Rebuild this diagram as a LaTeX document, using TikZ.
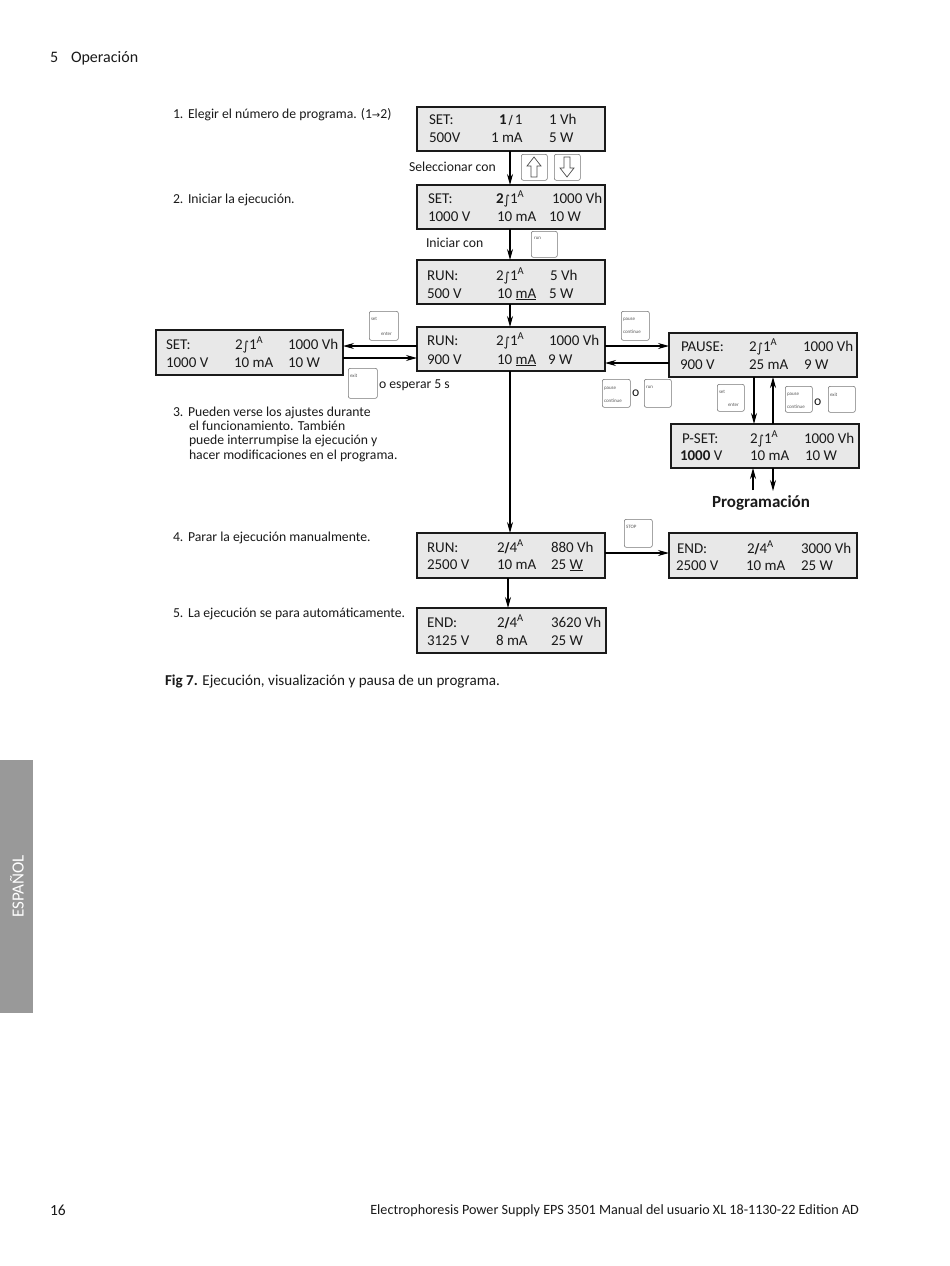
\documentclass[tikz,border=0pt]{standalone}
\usepackage{fontspec}
\setmainfont{Carlito}
\newfontfamily\symf{DejaVu Sans}
\usetikzlibrary{arrows.meta}
\definecolor{lcd}{HTML}{E8E8E8}
\definecolor{keyc}{HTML}{777777}
\definecolor{ink}{HTML}{1A1A1A}
\newcounter{tn}
\tikzset{
 panel/.style={draw=ink,line width=1.1pt,fill=lcd},
 keybox/.style={draw=keyc,line width=.6pt,rounded corners=2pt,fill=white},
 txt/.style={anchor=base west,inner sep=0pt,outer sep=0pt,text=ink,font=\fontsize{15}{16}\selectfont},
 item/.style={txt,font=\fontsize{13.7}{16}\selectfont},
 tiny/.style={anchor=base west,inner sep=0pt,outer sep=0pt,text=black!65,font=\fontsize{5}{6}\selectfont},
 conn/.style={draw=black,line width=1.1pt,-{Stealth[length=11pt,width=6pt]}},
}
\newcommand{\T}[3]{\stepcounter{tn}\node[txt] (t\arabic{tn}) at (#1,#2) {#3};}
\newcommand{\LL}[3]{\stepcounter{tn}\node[item] (t\arabic{tn}) at (#1,#2) {#3};}
\newcommand{\K}[3]{\stepcounter{tn}\node[tiny] (t\arabic{tn}) at (#1,#2) {#3};}
\newcommand{\PN}[5]{\node[panel,minimum width=#4pt-#2pt,minimum height=#5pt-#3pt,inner sep=0pt,outer sep=0pt,anchor=north west] (#1) at (#2,#3) {};}
\newcommand{\KB}[5]{\node[keybox,minimum width=#4pt-#2pt,minimum height=#5pt-#3pt,inner sep=0pt,anchor=north west] (#1) at (#2,#3) {};}
\newcommand{\Int}{{\symf\fontsize{12.5}{12}\selectfont\raisebox{-1pt}{∫}}}
\newcommand{\Ga}{2\Int 1\textsuperscript{A}}
\newcommand{\Gb}{2{\symf\fontsize{13.5}{12}\bfseries\selectfont /}4\textsuperscript{A}}
\begin{document}
\begin{tikzpicture}[x=1pt,y=-1pt]
\useasboundingbox (0,0) rectangle (950,1266);
\fill[white] (0,0) rectangle (950,1266);
% header, footer, sidebar
\stepcounter{tn}\node[txt,font=\fontsize{16}{18}\selectfont] (t\arabic{tn}) at (50,62) {5};
\stepcounter{tn}\node[txt,font=\fontsize{16}{18}\selectfont] (t\arabic{tn}) at (71,62) {Operación};
\stepcounter{tn}\node[txt,font=\fontsize{15.5}{18}\selectfont] (t\arabic{tn}) at (50,1215) {16};
\stepcounter{tn}\node[txt,anchor=base east,font=\fontsize{14.15}{16}\selectfont] (t\arabic{tn}) at (859,1214) {Electrophoresis Power Supply EPS 3501 Manual del usuario XL 18-1130-22 Edition AD};
\node[fill=black!40,minimum width=33pt,minimum height=253pt,inner sep=0pt,anchor=north west] (side) at (0,760) {};
\node[rotate=90,text=white,inner sep=0pt,font=\fontsize{17}{18}\selectfont] (sidet) at (17,886.5) {ESPAÑOL};
% panels
\PN{a}{417}{107}{605}{151}
\PN{b}{417}{185}{605}{229}
\PN{c}{417}{260}{605}{304}
\PN{d}{417}{327}{605}{371}
\PN{s}{156}{330}{343}{375}
\PN{p}{669}{333}{857}{377}
\PN{q}{671}{424}{859}{468}
\PN{e}{417}{533}{605}{578}
\PN{f}{669}{533}{857}{578}
\PN{g}{417}{608}{606}{653}
% panel text
\T{429}{124}{SET:}\T{499}{124}{\textbf{1}{\symf\fontsize{12.5}{12}\selectfont\,/\,}1}\T{549}{124}{1 Vh}
\T{429}{142}{500V}\T{491}{142}{1 mA}\T{549}{142}{5 W}
\T{428}{203}{SET:}\T{496}{203}{\textbf{2}\Int 1\textsuperscript{A}}\T{552}{203}{1000 Vh}
\T{428}{221}{1000 V}\T{497}{221}{10 mA}\T{549}{221}{10 W}
\T{427}{280}{RUN:}\T{496}{280}{\Ga}\T{550}{280}{5 Vh}
\T{427}{298}{500 V}\T{497}{298}{10 \underline{mA}}\T{549}{298}{5 W}
\T{427}{345}{RUN:}\T{496}{345}{\Ga}\T{549}{345}{1000 Vh}
\T{427}{364}{900 V}\T{497}{364}{10 \underline{mA}}\T{548}{364}{9 W}
\T{166}{349}{SET:}\T{235}{349}{\Ga}\T{288}{349}{1000 Vh}
\T{166}{367}{1000 V}\T{234}{367}{10 mA}\T{288}{367}{10 W}
\T{681}{351}{PAUSE:}\T{749}{351}{\Ga}\T{803}{351}{1000 Vh}
\T{680}{369}{900 V}\T{749}{369}{25 mA}\T{804}{369}{9 W}
\T{682}{443}{P-SET:}\T{750}{443}{\Ga}\T{804}{443}{1000 Vh}
\T{680}{460}{\textbf{1000} V}\T{750}{460}{10 mA}\T{805}{460}{10 W}
\T{427}{552}{RUN:}\T{497}{552}{\Gb}\T{551}{552}{880 Vh}
\T{427}{569}{2500 V}\T{497}{569}{10 mA}\T{551}{569}{25 \underline{W}}
\T{677}{553}{END:}\T{747}{553}{\Gb}\T{801}{553}{3000 Vh}
\T{676}{570}{2500 V}\T{746}{570}{10 mA}\T{801}{570}{25 W}
\T{427}{627}{END:}\T{497}{627}{\Gb}\T{551}{627}{3620 Vh}
\T{427}{645}{3125 V}\T{496}{645}{8 mA}\T{551}{645}{25 W}
% connectors
\draw[conn] ([xshift=-1pt]a.south) -- ([xshift=-1pt]b.north);
\draw[conn] ([xshift=-1pt]b.south) -- ([xshift=-1pt]c.north);
\draw[conn] ([xshift=-1pt]c.south) -- ([xshift=-1pt]d.north);
\draw[conn] ([xshift=-1pt]d.south) -- ([xshift=-1pt]e.north);
\draw[conn] ([xshift=-3pt]e.south) -- ([xshift=-3.5pt]g.north);
\draw[conn] (d.west |- 0,346) coordinate (d1) (d1) -- (s.east |- d1);
\draw[conn] (s.east |- 0,358) coordinate (s1) (s1) -- (d.west |- s1);
\draw[conn] (d.east |- 0,346) coordinate (d2) (d2) -- (p.west |- d2);
\draw[conn] (p.west |- 0,363) coordinate (p1) (p1) -- (d.east |- p1);
\draw[conn] (p.south -| 754,0) coordinate (p2) (p2) -- (q.north -| p2);
\draw[conn] (q.north -| 773,0) coordinate (q1) (q1) -- (p.south -| q1);
\draw[conn] (e.east |- 0,553) coordinate (e2) (e2) -- (f.west |- e2);
% programación
\node[txt,anchor=base,font=\fontsize{17}{18}\bfseries\selectfont] (prog) at (761,507) {Programación};
\coordinate (u1) at (753,490);
\coordinate (u2) at (773,491);
\draw[conn] (u1) -- (q.south -| u1);
\draw[conn] (q.south -| u2) -- (u2);
% keys
\KB{ku}{521}{154}{547}{180}
\KB{kd}{554}{154}{580}{180}
\draw[black!70,line width=.7pt,fill=white] (534,157) -- (541,166) -- (537,166) -- (537,177) -- (531,177) -- (531,166) -- (527,166) -- cycle;
\draw[black!70,line width=.7pt,fill=white] (567,177) -- (574,168) -- (570,168) -- (570,157) -- (564,157) -- (564,168) -- (560,168) -- cycle;
\KB{k1}{531}{231}{557}{257}\K{534}{239}{run}
\KB{k2}{369}{311}{398}{340}\K{371}{320}{set}\K{381}{335}{enter}
\KB{k3}{621}{311}{649}{340}\K{623}{320}{pause}\K{623}{333}{continue}
\KB{k4}{348}{368}{377}{398}\K{350}{377}{exit}
\KB{k5}{602}{379}{630}{407}\K{604}{389}{pause}\K{604}{402}{continue}
\KB{k6}{644}{379}{671}{407}\K{646}{388}{run}
\LL{632}{396}{o}
\KB{k7}{717}{384}{744}{411}\K{719}{393}{set}\K{728}{406}{enter}
\KB{k8}{785}{386}{812}{412}\K{787}{395}{pause}\K{787}{408}{continue}
\LL{814}{405}{o}
\KB{k9}{828}{386}{855}{412}\K{830}{396}{exit}
\KB{k10}{624}{519}{652}{547}\K{626}{528}{STOP}
% labels
\LL{409}{171}{Seleccionar con}
\LL{426}{247}{Iniciar con}
\LL{379}{388}{o esperar 5 s}
\LL{173}{118}{1.}\LL{188}{118}{Elegir el número de programa. (1{\symf\fontsize{10}{10}\selectfont →}2)}
\LL{173}{203}{2.}\LL{188}{203}{Iniciar la ejecución.}
\LL{173}{416}{3.}\LL{188}{416}{Pueden verse los ajustes durante}
\LL{189}{430}{el funcionamiento. También}
\LL{189}{444}{puede interrumpise la ejecución y}
\LL{189}{459}{hacer modificaciones en el programa.}
\LL{173}{541}{4.}\LL{188}{541}{Parar la ejecución manualmente.}
\LL{173}{617}{5.}\LL{188}{617}{La ejecución se para automáticamente.}
\stepcounter{tn}\node[txt,font=\fontsize{15.1}{16}\selectfont] (t\arabic{tn}) at (165,685) {\textbf{Fig 7.} Ejecución, visualización y pausa de un programa.};
\end{tikzpicture}
\end{document}
